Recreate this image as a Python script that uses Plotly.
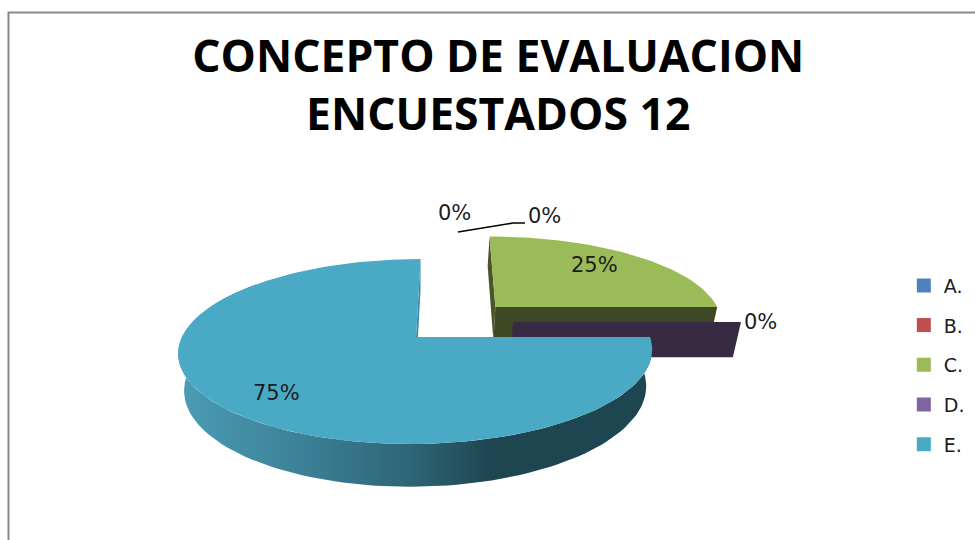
import math
import plotly.graph_objects as go

TITLE = "CONCEPTO DE EVALUACION<br>ENCUESTADOS 12"
categories = ["A.", "B.", "C.", "D.", "E."]
shares = [0, 0, 25, 0, 75]
legend_colors = ["#4f81bd", "#c0504d", "#9bbb59", "#8064a2", "#4aa9c4"]

# how far each slice is pulled out of the pie (plane units, 1 = radius)
pull_u = [0.0, 0.0, 0.35, 0.422, 0.0]
pull_v = [0.0, 0.0, -0.351, -0.17, 0.0]

# camera: ellipse radii, apex, vanishing x, perspective, thickness
RX, RY, AX, AY, VX, P, H, S = 234, 90.2, 416, 337, 450, 0.157, 36, 0.975


def project(u, v, low=False):
    f = 1 / (1 - P * v)
    x = VX + (RX * u + AX - VX) * f
    y = AY + RY * v * f
    if low:
        x = AX + (x - AX) * S
        y += H * f
    return x, y


def rim(du, dv, a0, a1, low=False):
    n = max(2, int(abs(a1 - a0) / 2))
    pts = []
    for i in range(n + 1):
        t = math.radians(a0 + (a1 - a0) * i / n)
        pts.append(project(du + math.sin(t), dv - math.cos(t), low))
    return pts


def poly(fig, pts, color, grad=None):
    kw = {"fillcolor": color} if grad is None else {"fillgradient": grad}
    fig.add_trace(go.Scatter(
        x=[p[0] for p in pts] + [pts[0][0]],
        y=[p[1] for p in pts] + [pts[0][1]],
        mode="lines", fill="toself", line=dict(width=0),
        hoverinfo="skip", showlegend=False, **kw))


fig = go.Figure()

start = {}
acc = 0
for name, s in zip(categories, shares):
    start[name] = acc * 3.6
    acc += s

# C: walls then top
ci = categories.index("C.")
du, dv = pull_u[ci], pull_v[ci]
a0 = start["C."]
a1 = a0 + shares[ci] * 3.6
wall = "#3f4824"
poly(fig, [project(du + math.sin(math.radians(a0)), dv - math.cos(math.radians(a0))),
           project(du, dv), project(du, dv, True),
           project(du + math.sin(math.radians(a0)), dv - math.cos(math.radians(a0)), True)], "#4a5628")
poly(fig, [project(du, dv), project(du + math.sin(math.radians(a1)), dv - math.cos(math.radians(a1))),
           project(du + math.sin(math.radians(a1)), dv - math.cos(math.radians(a1)), True),
           project(du, dv, True)], wall)
poly(fig, [project(du, dv)] + rim(du, dv, a0, a1), legend_colors[ci])

# D: zero-size slice, only its wall shows
di = categories.index("D.")
du, dv = pull_u[di], pull_v[di]
a = math.radians(start["D."])
poly(fig, [project(du, dv), project(du + math.sin(a), dv - math.cos(a)),
           project(du + math.sin(a), dv - math.cos(a), True), project(du, dv, True)], "#372a43")

# E: side, wall, top
ei = categories.index("E.")
a0 = start["E."]
a1 = a0 + shares[ei] * 3.6
top = rim(0, 0, a0, a1)
low = rim(0, 0, a0, a1, True)
poly(fig, [project(0, 0), project(0, 0, True), project(0, -1, True), project(0, -1)], "#3a8aa3")
side_end = int(len(top) * 0.82)
poly(fig, top[:side_end] + low[:side_end][::-1], None, grad=dict(
    type="horizontal",
    colorscale=[[0, "#4a9cb6"], [0.25, "#3d8298"], [0.5, "#2d6475"], [0.66, "#1e4650"], [1, "#1e4650"]]))
poly(fig, [project(0, 0)] + top, legend_colors[ei])

# legend entries
for name, c in zip(categories, legend_colors):
    fig.add_trace(go.Scatter(
        x=[None], y=[None], mode="markers", name=name, legendgroup=name,
        marker=dict(symbol="square", size=14, color=c)))

# leader line for the zero slices
fig.add_trace(go.Scatter(x=[458, 513, 525], y=[232, 223, 223], mode="lines",
                         line=dict(color="#000000", width=1.6),
                         hoverinfo="skip", showlegend=False))

label_pos = [(454, 213), (544, 216), (594, 265), (760, 322), (276, 393)]
for s, (x, y) in zip(shares, label_pos):
    fig.add_annotation(x=x, y=y, xref="x", yref="y", text=f"{s}%", showarrow=False,
                       font=dict(family="DejaVu Sans", size=21, color="#1c1c1c"))

fig.update_layout(
    width=975, height=540, margin=dict(l=0, r=0, t=0, b=0),
    paper_bgcolor="white", plot_bgcolor="white",
    title=dict(text=TITLE, x=0.511, xanchor="center", y=0.866, yanchor="bottom",
               font=dict(family="Open Sans", size=44.5, color="black", weight="bold")),
    xaxis=dict(range=[0, 975], visible=False, fixedrange=True),
    yaxis=dict(range=[540, 0], visible=False, fixedrange=True),
    legend=dict(x=0.927, xanchor="left", y=0.324, yanchor="middle", tracegroupgap=12,
                font=dict(family="DejaVu Sans", size=19, color="#1c1c1c"),
                itemwidth=30, bgcolor="rgba(0,0,0,0)"),
    shapes=[dict(type="path", path="M 8.5 540 L 8.5 12.5 L 975 12.5", xref="x", yref="y",
                 line=dict(color="#8a8a8a", width=2))],
)

fig.write_html("out.html", post_script="document.body.style.margin='0';",
               config=dict(displayModeBar=False))
